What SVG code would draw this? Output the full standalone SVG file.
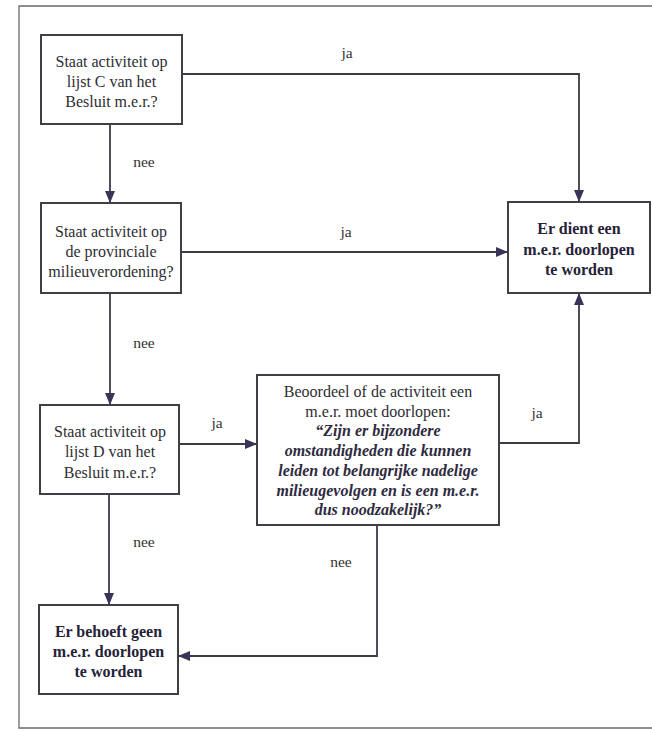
<svg xmlns="http://www.w3.org/2000/svg" width="652" height="732" viewBox="0 0 652 732">
<defs>
<marker id="ah" viewBox="0 0 12 10" refX="12" refY="5" markerWidth="12" markerHeight="10" markerUnits="userSpaceOnUse" orient="auto">
<path d="M0,0 L12,5 L0,10 Z" fill="#3b3358"/>
</marker>
<style>
.frame{fill:none;stroke:#6a6a6a;stroke-width:1.3}
.box{fill:#fff;stroke:#3f3f45;stroke-width:2}
.t{font-family:"Liberation Serif","Times New Roman",serif;font-size:16px;fill:#2e2e33;text-anchor:middle}
.b{font-weight:bold;fill:#262238}
.i{font-style:italic;font-weight:bold;fill:#2e2a40}
.lbl{font-family:"Liberation Serif","Times New Roman",serif;font-size:15.5px;fill:#333;text-anchor:middle}
.c{fill:none;stroke:#3d3a4a;stroke-width:1.8}
</style>
</defs>
<rect width="652" height="732" fill="#fff"/>
<path class="frame" d="M652,6 H19 V728 H652"/>

<g id="connectors">
<path class="c" d="M182,74 H579 V202" marker-end="url(#ah)"/>
<path class="c" d="M110,124 V203" marker-end="url(#ah)"/>
<path class="c" d="M181,252 H508" marker-end="url(#ah)"/>
<path class="c" d="M110,293 V405" marker-end="url(#ah)"/>
<path class="c" d="M179,444 H257" marker-end="url(#ah)"/>
<path class="c" d="M499,443 H579 V293" marker-end="url(#ah)"/>
<path class="c" d="M109,494 V605" marker-end="url(#ah)"/>
<path class="c" d="M377,525 V656 H178" marker-end="url(#ah)"/>
<text class="lbl" x="347" y="58">ja</text>
<text class="lbl" x="144" y="167">nee</text>
<text class="lbl" x="346" y="237">ja</text>
<text class="lbl" x="144" y="348">nee</text>
<text class="lbl" x="217" y="428">ja</text>
<text class="lbl" x="537" y="418">ja</text>
<text class="lbl" x="144" y="547">nee</text>
<text class="lbl" x="341" y="567">nee</text>
</g>

<g id="n1">
<rect class="box" x="41" y="35" width="141" height="89"/>
<text class="t" x="111.5" y="67">Staat activiteit op</text>
<text class="t" x="111.5" y="87">lijst C van het</text>
<text class="t" x="111.5" y="107">Besluit m.e.r.?</text>
</g>

<g id="n2">
<rect class="box" x="41" y="203" width="140" height="90"/>
<text class="t" x="111" y="237">Staat activiteit op</text>
<text class="t" x="111" y="257">de provinciale</text>
<text class="t" x="111" y="277">milieuverordening?</text>
</g>

<g id="n3">
<rect class="box" x="40" y="405" width="139" height="89"/>
<text class="t" x="110" y="437">Staat activiteit op</text>
<text class="t" x="110" y="457">lijst D van het</text>
<text class="t" x="110" y="478">Besluit m.e.r.?</text>
</g>

<g id="n4">
<rect class="box" x="508" y="202" width="142" height="91"/>
<text class="t b" x="579" y="234">Er dient een</text>
<text class="t b" x="579" y="255">m.e.r. doorlopen</text>
<text class="t b" x="579" y="275">te worden</text>
</g>

<g id="n5">
<rect class="box" x="257" y="375" width="242" height="150"/>
<text class="t" x="378" y="397">Beoordeel of de activiteit een</text>
<text class="t" x="378" y="417">m.e.r. moet doorlopen:</text>
<text class="t i" x="378" y="436">“Zijn er bijzondere</text>
<text class="t i" x="378" y="456">omstandigheden die kunnen</text>
<text class="t i" x="378" y="476">leiden tot belangrijke nadelige</text>
<text class="t i" x="378" y="496">milieugevolgen en is een m.e.r.</text>
<text class="t i" x="378" y="515">dus noodzakelijk?”</text>
</g>

<g id="n6">
<rect class="box" x="39" y="605" width="139" height="89"/>
<text class="t b" x="108.5" y="637">Er behoeft geen</text>
<text class="t b" x="108.5" y="657">m.e.r. doorlopen</text>
<text class="t b" x="108.5" y="677">te worden</text>
</g>
</svg>
